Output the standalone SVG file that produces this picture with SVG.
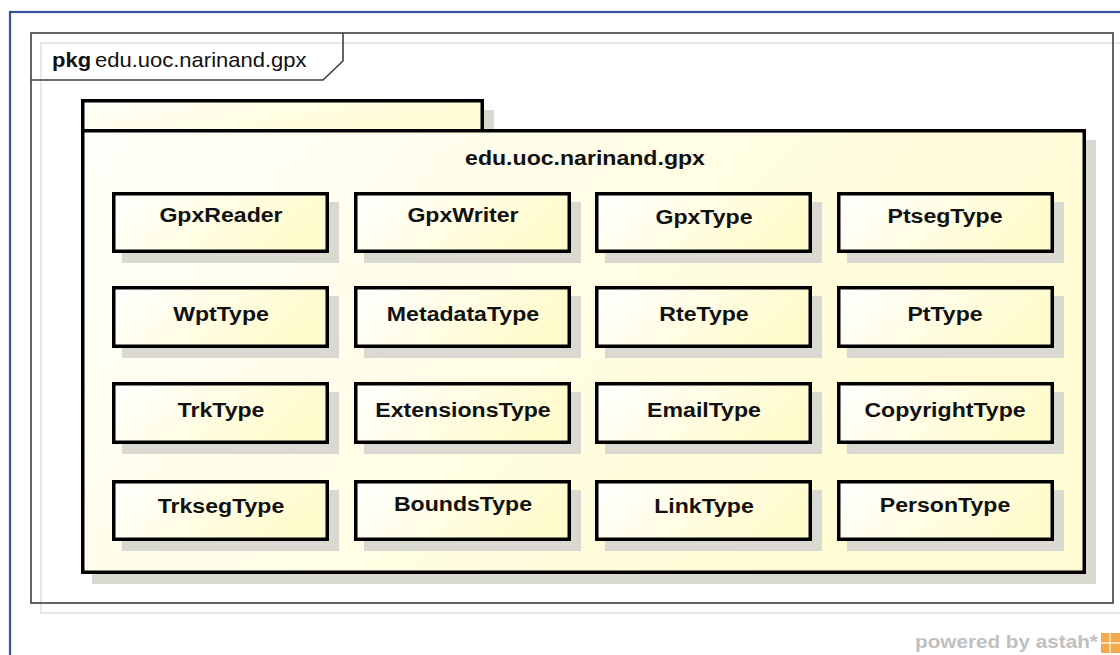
<svg xmlns="http://www.w3.org/2000/svg" width="1120" height="655" viewBox="0 0 1120 655">
<defs>
<linearGradient id="gb" x1="0" y1="0" x2="1" y2="0.3">
<stop offset="0" stop-color="#ffffff"/>
<stop offset="1" stop-color="#fffbcc"/>
</linearGradient>
<linearGradient id="gp" x1="0" y1="0" x2="1" y2="0.4">
<stop offset="0" stop-color="#fffffa"/>
<stop offset="1" stop-color="#fffbd2"/>
</linearGradient>
<style>
.sh{fill:#d9d9d1}
.box{fill:url(#gb);stroke:#000;stroke-width:3.5}
.pk{fill:url(#gp);stroke:#000;stroke-width:3.5}
.cls{font-family:"Liberation Sans",Arial,sans-serif;font-weight:bold;font-size:21px;text-anchor:middle;fill:#111}
.hdr{font-family:"Liberation Sans",Arial,sans-serif;font-size:20px;fill:#111}
</style>
</defs>
<rect x="0" y="0" width="1120" height="655" fill="#fff"/>
<rect x="10" y="12" width="1200" height="1000" fill="none" stroke="#34559b" stroke-width="2.2"/>
<g id="frame">
<rect x="41" y="43" width="1082" height="570" fill="none" stroke="#e8e8e8" stroke-width="2"/>
<rect x="31" y="33" width="1082" height="570" fill="none" stroke="#404040" stroke-width="1.6"/>
<path d="M31,80 H323 L343,61 V33" fill="none" stroke="#404040" stroke-width="1.6"/>
<text class="hdr" transform="translate(52,67) scale(1.1,1)" font-weight="bold">pkg</text>
<text class="hdr" transform="translate(95,67) scale(1.1,1)">edu.uoc.narinand.gpx</text>
</g>
<g id="package">
<rect class="sh" x="92" y="110" width="402" height="30"/>
<rect class="sh" x="92" y="140" width="1004" height="444"/>
<rect class="pk" x="82.75" y="100.75" width="399.5" height="30"/>
<rect class="pk" x="82.75" y="130.75" width="1001.5" height="441.5"/>
<text class="cls" transform="translate(585,165) scale(1.1,1)">edu.uoc.narinand.gpx</text>
</g>
<g id="connectors"/>
<g id="GpxReader"><rect class="sh" x="122" y="202" width="217" height="61"/><rect class="box" x="113.75" y="193.75" width="213.5" height="57.5"/><text class="cls" transform="translate(221,222) scale(1.1,1)">GpxReader</text></g>
<g id="GpxWriter"><rect class="sh" x="364" y="202" width="217" height="61"/><rect class="box" x="355.75" y="193.75" width="213.5" height="57.5"/><text class="cls" transform="translate(463,222) scale(1.1,1)">GpxWriter</text></g>
<g id="GpxType"><rect class="sh" x="605" y="202" width="217" height="61"/><rect class="box" x="596.75" y="193.75" width="213.5" height="57.5"/><text class="cls" transform="translate(704,224) scale(1.1,1)">GpxType</text></g>
<g id="PtsegType"><rect class="sh" x="847" y="202" width="217" height="61"/><rect class="box" x="838.75" y="193.75" width="213.5" height="57.5"/><text class="cls" transform="translate(945,223) scale(1.1,1)">PtsegType</text></g>

<g id="WptType"><rect class="sh" x="122" y="296" width="217" height="62"/><rect class="box" x="113.75" y="287.75" width="213.5" height="58.5"/><text class="cls" transform="translate(221,321) scale(1.1,1)">WptType</text></g>
<g id="MetadataType"><rect class="sh" x="364" y="296" width="217" height="62"/><rect class="box" x="355.75" y="287.75" width="213.5" height="58.5"/><text class="cls" transform="translate(463,321) scale(1.1,1)">MetadataType</text></g>
<g id="RteType"><rect class="sh" x="605" y="296" width="217" height="62"/><rect class="box" x="596.75" y="287.75" width="213.5" height="58.5"/><text class="cls" transform="translate(704,321) scale(1.1,1)">RteType</text></g>
<g id="PtType"><rect class="sh" x="847" y="296" width="217" height="62"/><rect class="box" x="838.75" y="287.75" width="213.5" height="58.5"/><text class="cls" transform="translate(945,321) scale(1.1,1)">PtType</text></g>

<g id="TrkType"><rect class="sh" x="122" y="392" width="217" height="62"/><rect class="box" x="113.75" y="383.75" width="213.5" height="58.5"/><text class="cls" transform="translate(221,417) scale(1.1,1)">TrkType</text></g>
<g id="ExtensionsType"><rect class="sh" x="364" y="392" width="217" height="62"/><rect class="box" x="355.75" y="383.75" width="213.5" height="58.5"/><text class="cls" transform="translate(463,417) scale(1.1,1)">ExtensionsType</text></g>
<g id="EmailType"><rect class="sh" x="605" y="392" width="217" height="62"/><rect class="box" x="596.75" y="383.75" width="213.5" height="58.5"/><text class="cls" transform="translate(704,417) scale(1.1,1)">EmailType</text></g>
<g id="CopyrightType"><rect class="sh" x="847" y="392" width="217" height="62"/><rect class="box" x="838.75" y="383.75" width="213.5" height="58.5"/><text class="cls" transform="translate(945,417) scale(1.1,1)">CopyrightType</text></g>

<g id="TrksegType"><rect class="sh" x="122" y="490" width="217" height="61"/><rect class="box" x="113.75" y="481.75" width="213.5" height="57.5"/><text class="cls" transform="translate(221,513) scale(1.1,1)">TrksegType</text></g>
<g id="BoundsType"><rect class="sh" x="364" y="490" width="217" height="61"/><rect class="box" x="355.75" y="481.75" width="213.5" height="57.5"/><text class="cls" transform="translate(463,511) scale(1.1,1)">BoundsType</text></g>
<g id="LinkType"><rect class="sh" x="605" y="490" width="217" height="61"/><rect class="box" x="596.75" y="481.75" width="213.5" height="57.5"/><text class="cls" transform="translate(704,513) scale(1.1,1)">LinkType</text></g>
<g id="PersonType"><rect class="sh" x="847" y="490" width="217" height="61"/><rect class="box" x="838.75" y="481.75" width="213.5" height="57.5"/><text class="cls" transform="translate(945,512) scale(1.1,1)">PersonType</text></g>

<g id="watermark">
<text transform="translate(915,648) scale(1.09,1)" font-family="Liberation Sans, Arial, sans-serif" font-weight="bold" font-size="19" fill="#c0c0c0">powered by astah*</text>
<rect x="1101" y="633" width="19" height="20" fill="#f3a94a"/>
<path d="M1101,643 H1120 M1110,633 V653" stroke="#fff" stroke-width="1.5" opacity="0.8"/>
</g>
</svg>
